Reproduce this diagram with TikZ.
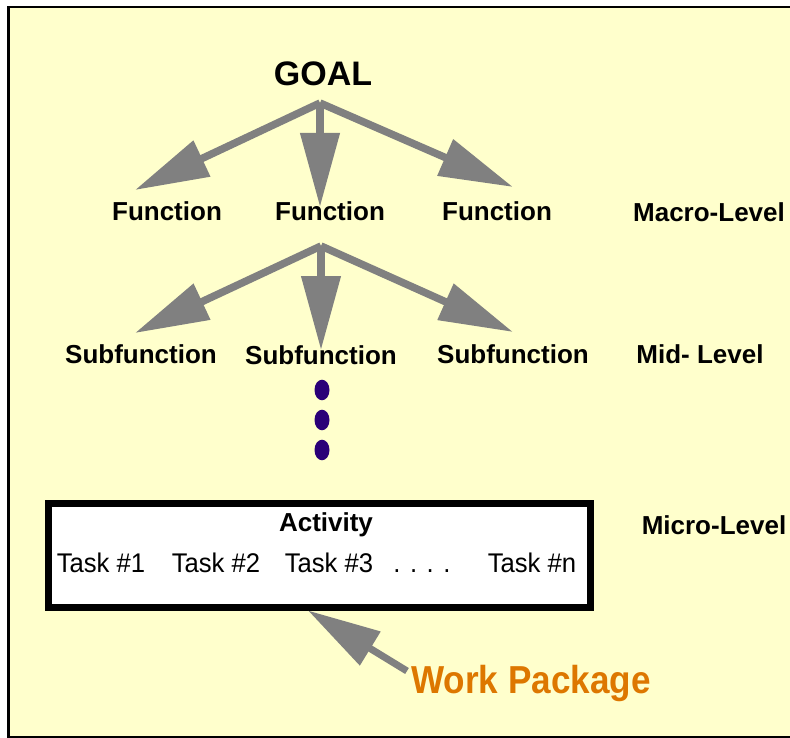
\documentclass[tikz,border=0pt]{standalone}
\usepackage{fontspec}
\setmainfont{Liberation Sans}
\newfontfamily\narrowfont[FakeStretch=0.9]{Liberation Sans}
\newfontfamily\taskfont[FakeStretch=0.95]{Liberation Sans}
\usetikzlibrary{arrows.meta}
\definecolor{paper}{RGB}{255,255,204}
\definecolor{arrowgray}{RGB}{128,128,128}
\definecolor{dotblue}{RGB}{42,0,120}
\definecolor{wporange}{RGB}{221,119,0}
\tikzstyle{goal} = [anchor=base, inner sep=0pt, font=\bfseries\fontsize{34}{36}\selectfont]
\tikzstyle{level} = [anchor=base, inner sep=0pt, font=\bfseries\fontsize{26}{30}\selectfont]
\tikzstyle{task} = [anchor=base, inner sep=0pt, font=\taskfont\fontsize{27}{30}\selectfont]
\tikzstyle{wp} = [anchor=base, inner sep=0pt, text=wporange, font=\narrowfont\bfseries\fontsize{39}{42}\selectfont]
\tikzstyle{fat} = [line width=7.5pt, draw=arrowgray, -{Triangle[length=74pt,width=38pt]}]
\tikzstyle{activitybox} = [draw=black, line width=7pt, fill=white, inner sep=0pt, minimum width=542pt, minimum height=103.5pt]

\begin{document}
\begin{tikzpicture}[x=1pt, y=-1pt]
\useasboundingbox (0,0) rectangle (790,738);
\fill[white] (0,0) rectangle (790,738);
\fill[paper] (9,7) rectangle (790,737);
\draw[line width=2.6pt] (790,7) -- (8.7,7) -- (8.7,737.4) -- (790,737.4);

\node (goal) [goal] at (323,86) {GOAL};
\node (fun1) [level] at (167,221) {Function};
\node (fun2) [level] at (330,221) {Function};
\node (fun3) [level] at (497,221) {Function};
\node (macro) [level] at (709,222) {Macro-Level};

\node (sub1) [level] at (141,363) {Subfunction};
\node (sub2) [level] at (321,364) {Subfunction};
\node (sub3) [level] at (513,363) {Subfunction};
\node (mid) [level] at (700,363) {Mid- Level};

\node (wpbox) [activitybox] at (319.5,555.25) {};
\node (activity) [level] at (326,531) {Activity};
\node (task1) [task] at (101,572) {Task \#1};
\node (task2) [task] at (216,572) {Task \#2};
\node (task3) [task] at (329,572) {Task \#3};
\node (taskdots) [task] at (422,572) {. . . .};
\node (taskn) [task] at (532,572) {Task \#n};
\node (micro) [level] at (714,534) {Micro-Level};

\node (wplabel) [wp] at (531,693) {Work Package};

% goal -> functions
\coordinate (goalfork) at (320,103);
\coordinate (tipf1) at (135,190);
\coordinate (tipf2) at (320,207);
\coordinate (tipf3) at (513,187);
\draw [fat] (goalfork) -- (tipf1);
\draw [fat] (goalfork) -- (tipf3);
\draw [fat] (goalfork) -- (tipf2);

% function -> subfunctions
\coordinate (funfork) at (321,246);
\coordinate (tips1) at (135,333);
\coordinate (tips2) at (321,350);
\coordinate (tips3) at (513,332);
\draw [fat] (funfork) -- (tips1);
\draw [fat] (funfork) -- (tips3);
\draw [fat] (funfork) -- (tips2);

% more levels
\foreach \y in {390,420,450}
  \fill[dotblue] (322,\y) ellipse (7.5 and 10.3);

% work package
\coordinate (wptail) at (407,671);
\draw [line width=7pt, draw=arrowgray, -{Triangle[length=73pt,width=38pt]}] (wptail) -- ([xshift=-11.5pt]wpbox.south);
\end{tikzpicture}
\end{document}
